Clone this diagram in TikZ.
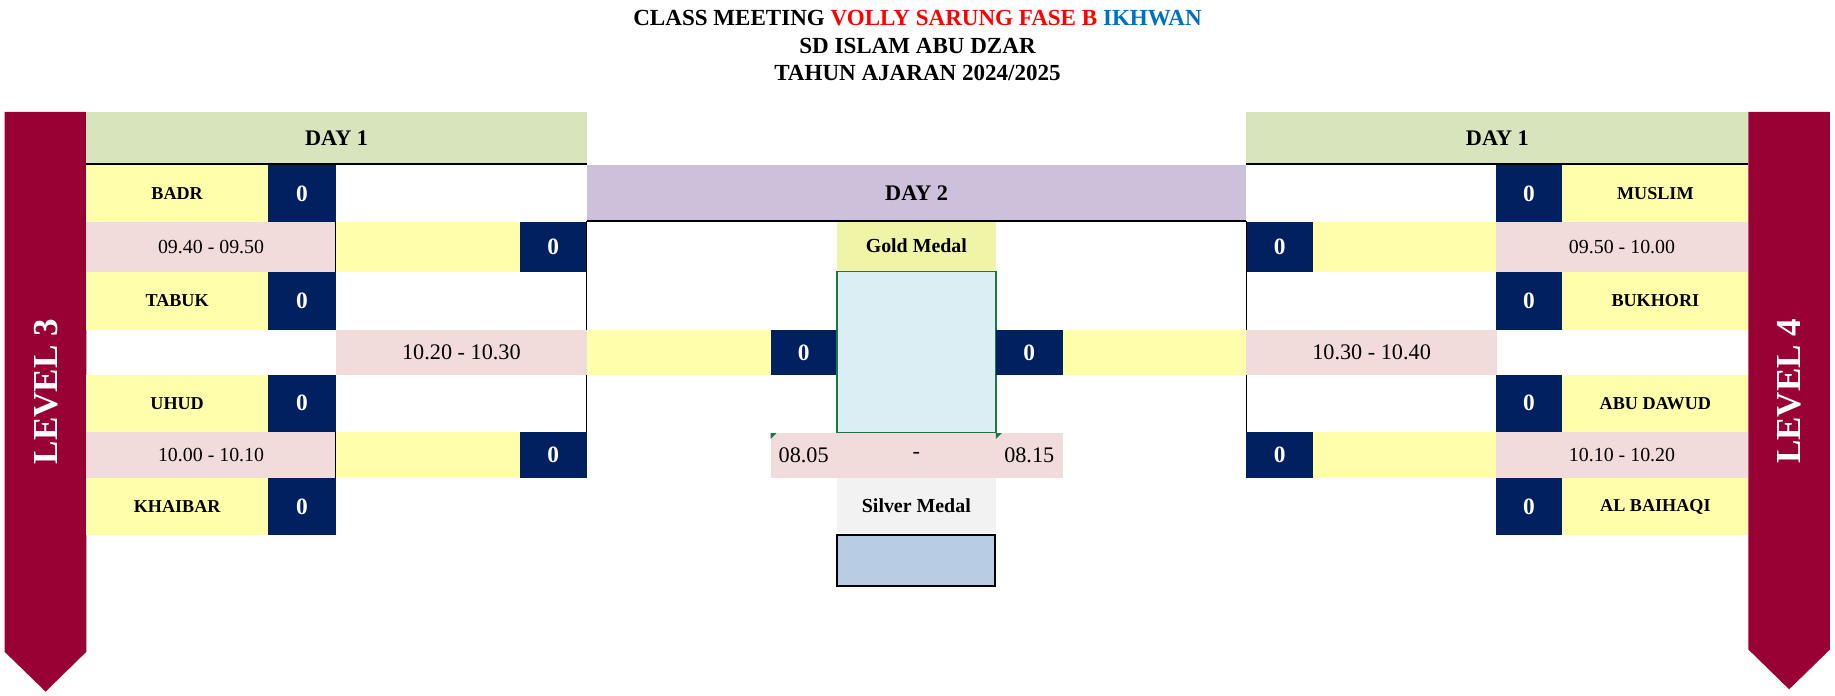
\documentclass[tikz,border=0pt]{standalone}
\usepackage{fontspec}
\setmainfont{Liberation Serif}
\definecolor{cnavy}{HTML}{002060}
\definecolor{cyellow}{HTML}{FFFFAB}
\definecolor{cpink}{HTML}{F2DCDB}
\definecolor{cgreen}{HTML}{D8E4BC}
\definecolor{cpurple}{HTML}{CCC0DA}
\definecolor{cgold}{HTML}{F0F4A6}
\definecolor{cblue}{HTML}{DAEEF3}
\definecolor{csilver}{HTML}{F2F2F2}
\definecolor{csbox}{HTML}{B8CCE4}
\definecolor{cbanner}{HTML}{990033}
\definecolor{cxgreen}{HTML}{217346}
\definecolor{ctred}{HTML}{FF0000}
\definecolor{ctblue}{HTML}{0070C0}
\newcommand\setfs[1]{\fontsize{#1}{#1}\selectfont}
\newcommand\cellnode[7]{\node[#6, name=#1, minimum width={(#4-#2)*1pt}, minimum height={(#5-#3)*1pt}] at ({(#2+#4)/2},{(#3+#5)/2}) {#7};}
\tikzset{
  cell/.style={inner sep=0pt, outer sep=0pt, draw=none},
  nm/.style={cell, fill=cyellow, font=\bfseries\setfs{15.5}},
  sc/.style={cell, fill=cnavy, text=white, font=\bfseries\setfs{20}},
  yl/.style={cell, fill=cyellow},
  tm/.style={cell, fill=cpink, font=\setfs{17}},
  tmb/.style={cell, fill=cpink, font=\setfs{19}},
  hdr/.style={cell, font=\bfseries\setfs{19}},
  medal/.style={cell, font=\bfseries\setfs{17}},
  ttl/.style={anchor=base, inner sep=0pt, font=\bfseries\setfs{19.7}},
  banner/.style={fill=cbanner, draw=none},
  lvl/.style={rotate=90, text=white, inner sep=0pt, font=\bfseries\setfs{30}},
  hline/.style={draw=black, line width=1.6pt},
  bline/.style={draw=black, line width=0.9pt},
  tri/.style={fill=cxgreen, draw=none}
}
\begin{document}
\begin{tikzpicture}[x=1pt,y=-1pt]
\useasboundingbox (0,0) rectangle (1568,594);
\fill[white] (0,0) rectangle (1568,594);
% titles
\node[ttl] (t1) at (784,21.4) {CLASS MEETING \textcolor{ctred}{VOLLY SARUNG FASE B} \textcolor{ctblue}{IKHWAN}};
\node[ttl] (t2) at (784,45.6) {SD ISLAM ABU DZAR};
\node[ttl] (t3) at (784,69) {TAHUN AJARAN 2024/2025};
% banners
\path[banner] (4,95.5) -- (73.7,95.5) -- (73.7,557) -- (39,591) -- (4,557) -- cycle;
\path[banner] (1494,95.5) -- (1563.7,95.5) -- (1563.7,555) -- (1528.8,589) -- (1494,555) -- cycle;
\node[lvl] (lv3) at (39.5,334.7) {LEVEL 3};
\node[lvl] (lv4) at (1528.5,334.3) {LEVEL 4};
% headers
\cellnode{hdL}{73.7}{96}{501.5}{140}{hdr, fill=cgreen}{DAY 1}
\cellnode{hdR}{1065}{96}{1494}{140}{hdr, fill=cgreen}{DAY 1}
\cellnode{hd2}{501.5}{141}{1065}{189}{hdr, fill=cpurple}{DAY 2}
% left side
\cellnode{nBadr}{73.7}{141}{229}{189.7}{nm}{BADR}
\cellnode{sBadr}{229}{141}{287}{189.7}{sc}{0}
\cellnode{tL1}{73.7}{189.7}{287}{232.3}{tm}{09.40 - 09.50}
\cellnode{yL1}{287}{189.7}{444}{232.3}{yl}{}
\cellnode{sL1}{444}{189.7}{501.5}{232.3}{sc}{0}
\cellnode{nTabuk}{73.7}{232.3}{229}{282}{nm}{TABUK}
\cellnode{sTabuk}{229}{232.3}{287}{282}{sc}{0}
\cellnode{tL2}{287}{282}{501.5}{320.4}{tmb}{10.20 - 10.30}
\cellnode{nUhud}{73.7}{320.4}{229}{368.8}{nm}{UHUD}
\cellnode{sUhud}{229}{320.4}{287}{368.8}{sc}{0}
\cellnode{tL3}{73.7}{368.8}{287}{408.7}{tm}{10.00 - 10.10}
\cellnode{yL3}{287}{368.8}{444}{408.7}{yl}{}
\cellnode{sL3}{444}{368.8}{501.5}{408.7}{sc}{0}
\cellnode{nKhaibar}{73.7}{408.7}{229}{457}{nm}{KHAIBAR}
\cellnode{sKhaibar}{229}{408.7}{287}{457}{sc}{0}
% centre
\cellnode{yC1}{501.5}{282}{658.5}{320.4}{yl}{}
\cellnode{sC1}{658.5}{282}{715}{320.4}{sc}{0}
\cellnode{gold}{715}{189}{851}{231.5}{medal, fill=cgold}{Gold Medal}
\cellnode{goldbox}{715}{232}{851}{369.7}{cell, fill=cblue, draw=cxgreen, line width=1.5pt}{}
\cellnode{sC2}{851}{282}{908}{320.4}{sc}{0}
\cellnode{yC2}{908}{282}{1065}{320.4}{yl}{}
\cellnode{tF1}{658.5}{370}{715}{408.7}{tmb}{08.05}
\cellnode{tF2}{715}{370}{851}{408.7}{tmb}{-}
\cellnode{tF3}{851}{370}{908}{408.7}{tmb}{08.15}
\cellnode{silver}{715}{408.7}{851}{455.6}{medal, fill=csilver}{Silver Medal}
\cellnode{sbox}{715.5}{457}{850.5}{500.5}{cell, fill=csbox, draw=black, line width=1.8pt}{}
% right side
\cellnode{sMuslim}{1278}{141}{1335}{189.7}{sc}{0}
\cellnode{nMuslim}{1335}{141}{1494}{189.7}{nm}{MUSLIM}
\cellnode{sR1}{1065}{189.7}{1122}{232.3}{sc}{0}
\cellnode{yR1}{1122}{189.7}{1278}{232.3}{yl}{}
\cellnode{tR1}{1278}{189.7}{1494}{232.3}{tm}{09.50 - 10.00}
\cellnode{sBukhori}{1278}{232.3}{1335}{282}{sc}{0}
\cellnode{nBukhori}{1335}{232.3}{1494}{282}{nm}{BUKHORI}
\cellnode{tR2}{1065}{282}{1279}{320.4}{tmb}{10.30 - 10.40}
\cellnode{sAbu}{1278}{320.4}{1335}{368.8}{sc}{0}
\cellnode{nAbu}{1335}{320.4}{1494}{368.8}{nm}{ABU DAWUD}
\cellnode{sR3}{1065}{368.8}{1122}{408.7}{sc}{0}
\cellnode{yR3}{1122}{368.8}{1278}{408.7}{yl}{}
\cellnode{tR3}{1278}{368.8}{1494}{408.7}{tm}{10.10 - 10.20}
\cellnode{sBaihaqi}{1278}{408.7}{1335}{457}{sc}{0}
\cellnode{nBaihaqi}{1335}{408.7}{1494}{457}{nm}{AL BAIHAQI}
% header rules
\draw[hline] (hdL.south west) -- (hdL.south east);
\draw[hline] (hdR.south west) -- (hdR.south east);
\draw[hline] (hd2.south west) -- (hd2.south east);
% bracket lines
\draw[bline] (yL1.north west) -- (yL1.south west);
\draw[bline] (yL3.north west) -- (yL3.south west);
\draw[bline] (hd2.south west) -- (yC1.north west);
\draw[bline] (yC1.south west) -- (sL3.north east);
\draw[bline] (hd2.south east) -- (yC2.north east);
\draw[bline] (yC2.south east) -- (sR3.north west);
% indicator triangles
\path[tri] (tF1.north west) -- ++(5,0) -- ++(-5,5) -- cycle;
\path[tri] (tF3.north west) -- ++(5,0) -- ++(-5,5) -- cycle;
\end{tikzpicture}
\end{document}
